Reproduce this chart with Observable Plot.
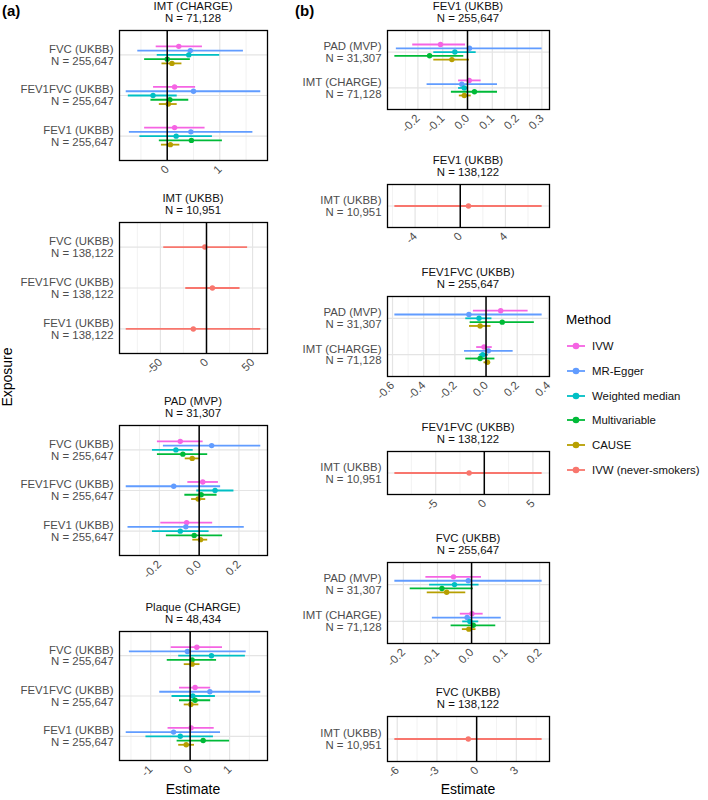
<!DOCTYPE html>
<html><head><meta charset="utf-8">
<script src="https://cdn.jsdelivr.net/npm/d3@7"></script>
<script src="https://cdn.jsdelivr.net/npm/@observablehq/plot@0.6"></script>
<style>
body{margin:0;background:#fff;font-family:"Liberation Sans",Arial,sans-serif;}
#root{position:relative;width:708px;height:800px;overflow:hidden;background:#fff;}
.ttl{position:absolute;text-align:center;font-size:11.4px;line-height:11.5px;color:#111;white-space:nowrap;}
.lab{position:absolute;white-space:nowrap;color:#000;}
.leg{position:absolute;font-size:11.4px;color:#111;white-space:nowrap;display:flex;align-items:center;}
svg.panel{position:absolute;}
</style></head><body><div id="root"></div>
<script>
// ---------- data ----------
const methods = ["IVW", "MR-Egger", "Weighted median", "Multivariable", "CAUSE", "IVW (never-smokers)"];
const methodColors = ["#F564E3", "#619CFF", "#00BFC4", "#00BA38", "#B79F00", "#F8766D"];
const fiveMethods = methods.slice(0, 5);
const neverSmokers = [methods[5]];

const outcomesA = ["FVC (UKBB)\nN = 255,647", "FEV1FVC (UKBB)\nN = 255,647", "FEV1 (UKBB)\nN = 255,647"];
const outcomesA2 = ["FVC (UKBB)\nN = 138,122", "FEV1FVC (UKBB)\nN = 138,122", "FEV1 (UKBB)\nN = 138,122"];
const exposuresB = ["PAD (MVP)\nN = 31,307", "IMT (CHARGE)\nN = 71,128"];
const exposuresB2 = ["IMT (UKBB)\nN = 10,951"];

// (a) IMT (CHARGE)
const a1Title = ["IMT (CHARGE)", "N = 71,128"];
const a1Est = [[0.22, 0.44, 0.41, 0.00, 0.09], [0.14, 0.50, -0.27, 0.05, 0.02], [0.14, 0.45, 0.17, 0.46, 0.06]];
const a1Lo  = [[-0.21, -0.56, -0.19, -0.43, -0.10], [-0.26, -0.78, -0.74, -0.31, -0.15], [-0.43, -0.72, -0.52, -0.15, -0.11]];
const a1Hi  = [[0.67, 1.45, 1.00, 0.44, 0.28], [0.54, 1.78, 0.19, 0.41, 0.19], [0.72, 1.63, 0.86, 1.05, 0.24]];
const a1Ticks = [0, 1], a1TickLabels = ["0", "1"], a1Minor = [-0.5, 0.5, 1.5];

// (a) IMT (UKBB)
const a2Title = ["IMT (UKBB)", "N = 10,951"];
const a2Est = [[-1.8], [6.4], [-14.3]];
const a2Lo  = [[-46.4], [-22.5], [-87.1]];
const a2Hi  = [[44.6], [36.4], [58.9]];
const a2Ticks = [-50, 0, 50], a2TickLabels = ["-50", "0", "50"], a2Minor = [-75, -25, 25];

// (a) PAD (MVP)
const a3Title = ["PAD (MVP)", "N = 31,307"];
const a3Est = [[-0.095, 0.063, -0.117, -0.082, -0.035], [0.018, -0.128, 0.080, 0.010, -0.005], [-0.063, -0.067, -0.095, -0.025, 0.007]];
const a3Lo  = [[-0.210, -0.180, -0.235, -0.210, -0.070], [-0.057, -0.367, -0.012, -0.072, -0.038], [-0.193, -0.358, -0.235, -0.165, -0.032]];
const a3Hi  = [[0.020, 0.310, -0.030, 0.043, 0.007], [0.097, 0.108, 0.175, 0.090, 0.033], [0.068, 0.227, 0.050, 0.118, 0.043]];
const a3Ticks = [-0.2, 0, 0.2], a3TickLabels = ["-0.2", "0.0", "0.2"], a3Minor = [-0.3, -0.1, 0.1, 0.3];

// (a) Plaque (CHARGE)
const a4Title = ["Plaque (CHARGE)", "N = 48,434"];
const a4Est = [[0.17, -0.07, 0.54, 0.05, 0.05], [0.125, 0.50, 0.067, 0.125, 0.017], [0.025, -0.42, -0.25, 0.33, -0.10]];
const a4Lo  = [[-0.48, -1.54, -0.29, -0.58, -0.15], [-0.27, -0.77, -0.46, -0.27, -0.15], [-0.56, -1.62, -1.12, -0.33, -0.29]];
const a4Hi  = [[0.82, 1.42, 1.40, 0.67, 0.25], [0.52, 1.79, 0.64, 0.52, 0.22], [0.61, 0.77, 0.59, 1.00, 0.11]];
const a4Ticks = [-1, 0, 1], a4TickLabels = ["-1", "0", "1"], a4Minor = [-1.5, -0.5, 0.5, 1.5];

// (b) FEV1 (UKBB) N = 255,647
const b1Title = ["FEV1 (UKBB)", "N = 255,647"];
const b1Est = [[-0.109, 0.008, -0.051, -0.153, -0.063], [0.007, -0.023, -0.013, 0.028, -0.013]];
const b1Lo  = [[-0.221, -0.287, -0.136, -0.293, -0.136], [-0.036, -0.163, -0.036, -0.065, -0.033]];
const b1Hi  = [[-0.008, 0.301, 0.035, -0.015, 0.008], [0.055, 0.121, 0.004, 0.121, 0.015]];
const b1Ticks = [-0.2, -0.1, 0, 0.1, 0.2, 0.3], b1TickLabels = ["-0.2", "-0.1", "0.0", "0.1", "0.2", "0.3"], b1Minor = [-0.25, -0.15, -0.05, 0.05, 0.15, 0.25];

// (b) FEV1 (UKBB) N = 138,122
const b2Title = ["FEV1 (UKBB)", "N = 138,122"];
const b2Est = [[0.73]], b2Lo = [[-5.79]], b2Hi = [[7.25]];
const b2Ticks = [-4, 0, 4], b2TickLabels = ["-4", "0", "4"], b2Minor = [-6, -2, 2, 6];

// (b) FEV1FVC (UKBB) N = 255,647
const b3Title = ["FEV1FVC (UKBB)", "N = 255,647"];
const b3Est = [[0.094, -0.110, -0.045, 0.104, -0.038], [-0.013, 0.015, -0.021, -0.038, 0.009]];
const b3Lo  = [[-0.081, -0.585, -0.130, -0.102, -0.106], [-0.060, -0.138, -0.043, -0.130, -0.013]];
const b3Hi  = [[0.270, 0.360, 0.038, 0.310, 0.032], [0.040, 0.174, 0.015, 0.057, 0.030]];
const b3Ticks = [-0.6, -0.4, -0.2, 0, 0.2, 0.4], b3TickLabels = ["-0.6", "-0.4", "-0.2", "0.0", "0.2", "0.4"], b3Minor = [-0.5, -0.3, -0.1, 0.1, 0.3];

// (b) FEV1FVC (UKBB) N = 138,122
const b4Title = ["FEV1FVC (UKBB)", "N = 138,122"];
const b4Est = [[-1.56]], b4Lo = [[-9.2]], b4Hi = [[5.95]];
const b4Ticks = [-5, 0, 5], b4TickLabels = ["-5", "0", "5"], b4Minor = [-7.5, -2.5, 2.5];

// (b) FVC (UKBB) N = 255,647
const b5Title = ["FVC (UKBB)", "N = 255,647"];
const b5Est = [[-0.053, -0.0097, -0.050, -0.087, -0.073], [0.001, -0.013, -0.005, 0.005, -0.008]];
const b5Lo  = [[-0.134, -0.225, -0.123, -0.180, -0.130], [-0.033, -0.115, -0.026, -0.060, -0.027]];
const b5Hi  = [[0.029, 0.207, 0.022, 0.005, -0.017], [0.034, 0.087, 0.021, 0.071, 0.013]];
const b5Ticks = [-0.2, -0.1, 0, 0.1, 0.2], b5TickLabels = ["-0.2", "-0.1", "0.0", "0.1", "0.2"], b5Minor = [-0.15, -0.05, 0.05, 0.15];

// (b) FVC (UKBB) N = 138,122
const b6Title = ["FVC (UKBB)", "N = 138,122"];
const b6Est = [[-0.63]], b6Lo = [[-6.18]], b6Hi = [[4.95]];
const b6Ticks = [-6, -3, 0, 3], b6TickLabels = ["-6", "-3", "0", "3"], b6Minor = [-4.5, -1.5, 1.5, 4.5];

// ---------- layout ----------
const FONT = '"Liberation Sans", Arial, Helvetica, sans-serif';
const colA = {svgX: 0, svgW: 272, fl: 119, fr: 267};
const colB = {svgX: 280, svgW: 276, fl: 387, fr: 549};
const panels = [
  {col: colA, ft: 30,  fb: 160, title: a1Title, rows: outcomesA,  m: fiveMethods, est: a1Est, lo: a1Lo, hi: a1Hi, ticks: a1Ticks, tl: a1TickLabels, minor: a1Minor},
  {col: colA, ft: 222, fb: 353, title: a2Title, rows: outcomesA2, m: neverSmokers, est: a2Est, lo: a2Lo, hi: a2Hi, ticks: a2Ticks, tl: a2TickLabels, minor: a2Minor},
  {col: colA, ft: 425, fb: 555, title: a3Title, rows: outcomesA,  m: fiveMethods, est: a3Est, lo: a3Lo, hi: a3Hi, ticks: a3Ticks, tl: a3TickLabels, minor: a3Minor},
  {col: colA, ft: 631, fb: 760, title: a4Title, rows: outcomesA,  m: fiveMethods, est: a4Est, lo: a4Lo, hi: a4Hi, ticks: a4Ticks, tl: a4TickLabels, minor: a4Minor},
  {col: colB, ft: 30,  fb: 109, title: b1Title, rows: exposuresB,  m: fiveMethods, est: b1Est, lo: b1Lo, hi: b1Hi, ticks: b1Ticks, tl: b1TickLabels, minor: b1Minor},
  {col: colB, ft: 184, fb: 227, title: b2Title, rows: exposuresB2, m: neverSmokers, est: b2Est, lo: b2Lo, hi: b2Hi, ticks: b2Ticks, tl: b2TickLabels, minor: b2Minor},
  {col: colB, ft: 296, fb: 376, title: b3Title, rows: exposuresB,  m: fiveMethods, est: b3Est, lo: b3Lo, hi: b3Hi, ticks: b3Ticks, tl: b3TickLabels, minor: b3Minor},
  {col: colB, ft: 451, fb: 494, title: b4Title, rows: exposuresB2, m: neverSmokers, est: b4Est, lo: b4Lo, hi: b4Hi, ticks: b4Ticks, tl: b4TickLabels, minor: b4Minor},
  {col: colB, ft: 562, fb: 643, title: b5Title, rows: exposuresB,  m: fiveMethods, est: b5Est, lo: b5Lo, hi: b5Hi, ticks: b5Ticks, tl: b5TickLabels, minor: b5Minor},
  {col: colB, ft: 716, fb: 761, title: b6Title, rows: exposuresB2, m: neverSmokers, est: b6Est, lo: b6Lo, hi: b6Hi, ticks: b6Ticks, tl: b6TickLabels, minor: b6Minor}
];

const root = document.getElementById("root");
const DODGE = 0.105;

function drawPanel(p) {
  const nr = p.rows.length;
  const nm = p.m.length;
  const data = [];
  p.est.forEach((row, i) => row.forEach((v, j) => {
    data.push({method: p.m[j], y: i + (j - (nm - 1) / 2) * DODGE, est: v, lo: p.lo[i][j], hi: p.hi[i][j]});
  }));
  const [mn, mx] = d3.extent(data.flatMap(d => [d.lo, d.hi]));
  const pad = (mx - mn) * 0.05;
  const dom = [mn - pad, mx + pad];
  const inDom = v => v > dom[0] && v < dom[1];
  const mt = 4, mb = 36;
  const c = p.col;
  const labelOf = new Map(p.ticks.map((t, i) => [t, p.tl[i]]));
  const svg = Plot.plot({
    width: c.svgW,
    height: (p.fb - p.ft) + mt + mb,
    marginLeft: c.fl - c.svgX,
    marginRight: c.svgX + c.svgW - c.fr,
    marginTop: mt,
    marginBottom: mb,
    style: {fontFamily: FONT, fontSize: "11.4px", background: "transparent", overflow: "visible"},
    x: {domain: dom},
    y: {domain: [-0.6, nr - 0.4], reverse: true},
    color: {domain: methods, range: methodColors},
    marks: [
      Plot.gridX(p.minor.filter(inDom), {stroke: "#ededed", strokeOpacity: 1, strokeWidth: 0.7}),
      Plot.gridX(p.ticks.filter(inDom), {stroke: "#e4e4e4", strokeOpacity: 1, strokeWidth: 1.2}),
      Plot.gridY(d3.range(nr), {stroke: "#e4e4e4", strokeOpacity: 1, strokeWidth: 1.2}),
      Plot.ruleY(data, {y: "y", x1: "lo", x2: "hi", stroke: "method", strokeWidth: 1.8}),
      Plot.dot(data, {x: "est", y: "y", fill: "method", r: 2.7}),
      Plot.ruleX([0], {stroke: "#000", strokeWidth: 1.5}),
      Plot.frame({stroke: "#000", strokeWidth: 1.3}),
      Plot.axisX(p.ticks.filter(inDom), {tickFormat: d => labelOf.get(d), tickRotate: -45, tickSize: 0, tickPadding: 7,
        fontSize: "11.4px", fill: "#4d4d4d", label: null}),
      Plot.axisY(d3.range(nr), {tickFormat: i => p.rows[i], tickSize: 0, tickPadding: 6,
        fontSize: "11.4px", fill: "#4d4d4d", label: null, lineHeight: 1.03})
    ]
  });
  svg.classList.add("panel");
  svg.style.left = c.svgX + "px";
  svg.style.top = (p.ft - mt) + "px";
  root.appendChild(svg);

  const t = document.createElement("div");
  t.className = "ttl";
  t.style.left = c.fl + "px";
  t.style.width = (c.fr - c.fl) + "px";
  t.style.top = Math.max(1, p.ft - 29) + "px";
  t.innerHTML = p.title.join("<br>");
  root.appendChild(t);
}
panels.forEach(drawPanel);

function addLabel(text, css) {
  const d = document.createElement("div");
  d.className = "lab";
  d.textContent = text;
  Object.assign(d.style, css);
  root.appendChild(d);
  return d;
}
addLabel("(a)", {left: "2px", top: "2px", fontSize: "15px", fontWeight: "bold"});
addLabel("(b)", {left: "295px", top: "2px", fontSize: "15px", fontWeight: "bold"});
addLabel("Estimate", {left: "193px", top: "781px", fontSize: "14px", transform: "translateX(-50%)"});
addLabel("Estimate", {left: "468px", top: "781px", fontSize: "14px", transform: "translateX(-50%)"});
addLabel("Exposure", {left: "7px", top: "377px", fontSize: "14px", transform: "translate(-50%,-50%) rotate(-90deg)"});
addLabel("Method", {left: "566px", top: "312px", fontSize: "13.5px"});

methods.forEach((m, i) => {
  const row = document.createElement("div");
  row.className = "leg";
  row.style.left = "565px";
  row.style.top = (346 + i * 24.8 - 8) + "px";
  row.style.height = "16px";
  const col = methodColors[i];
  row.innerHTML = `<svg width="22" height="16" style="margin-right:5px"><line x1="2" x2="20" y1="8" y2="8" stroke="${col}" stroke-width="1.8"/><circle cx="11" cy="8" r="3.3" fill="${col}"/></svg><span>${m}</span>`;
  root.appendChild(row);
});
</script></body></html>
